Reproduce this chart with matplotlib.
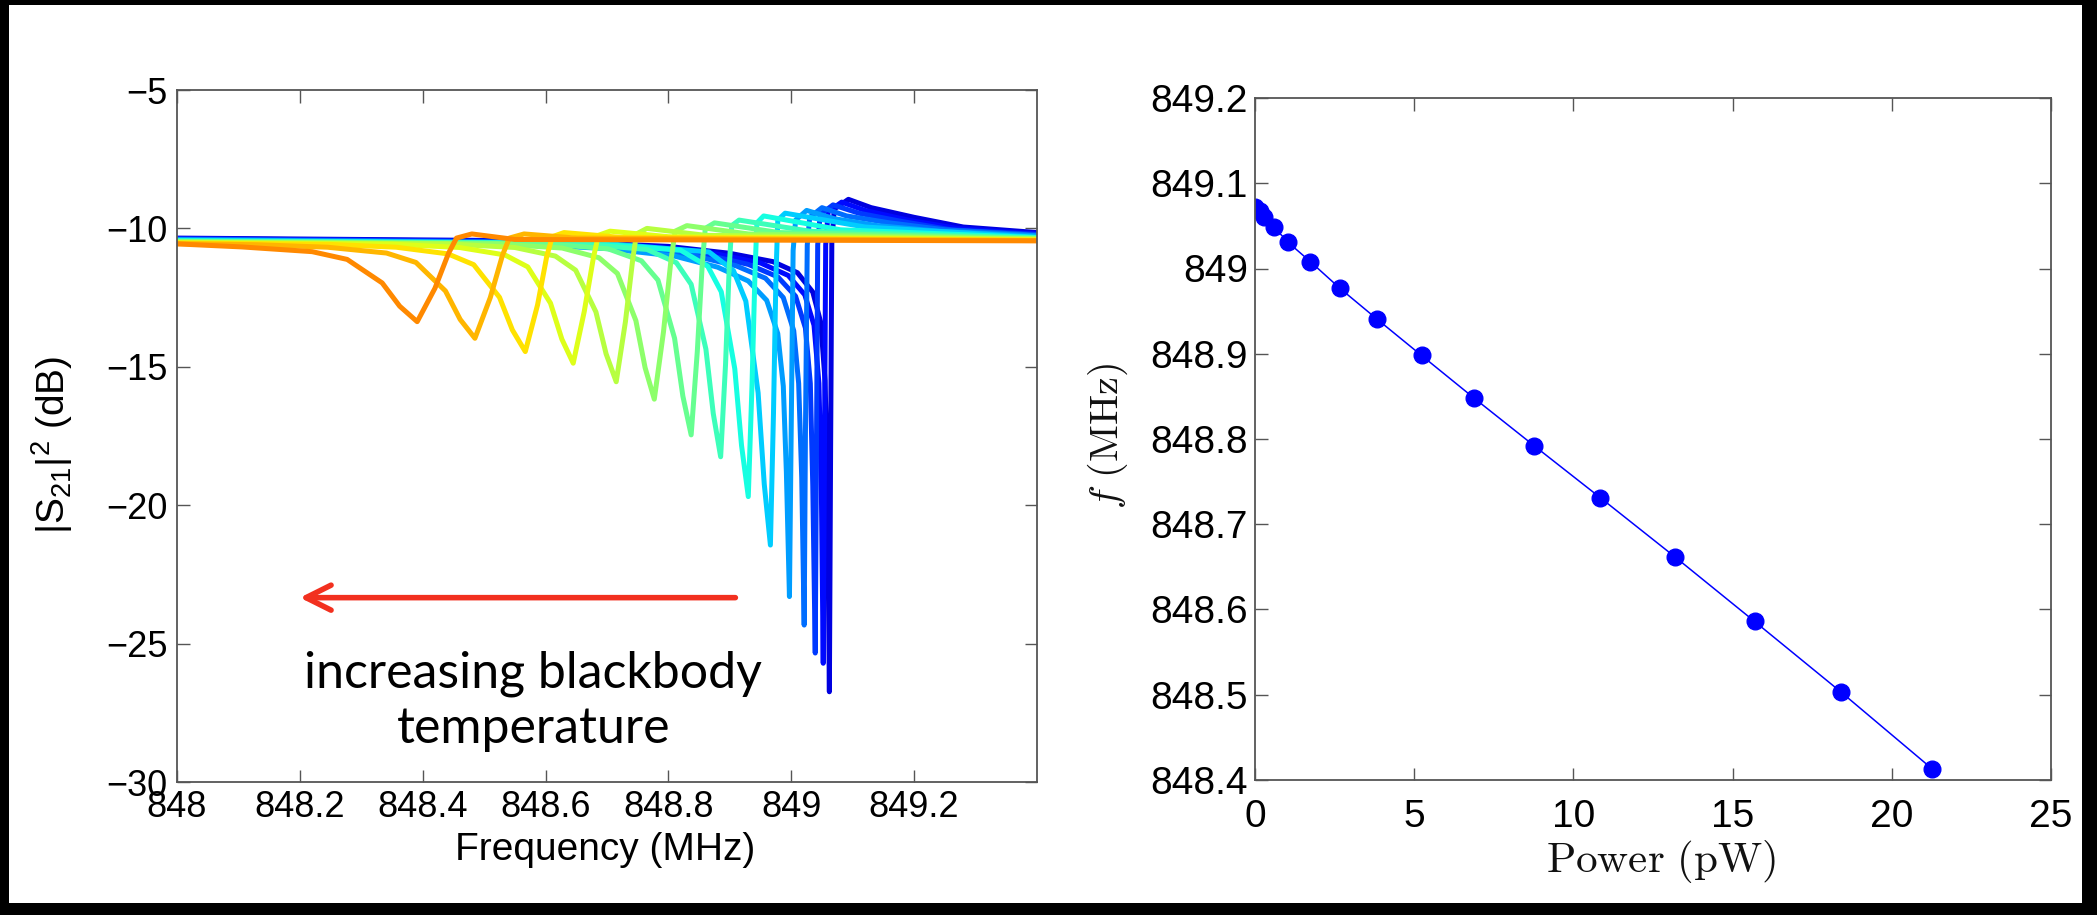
import matplotlib
matplotlib.use("Agg")
import matplotlib.pyplot as plt
from matplotlib.patches import Rectangle

# ---------------- data: left panel (S21 traces, blue = low T -> orange = high T) ----------
t0_f = [848.00, 848.60, 848.80, 848.90, 848.97, 849.01, 849.035, 849.048, 849.055, 849.059, 849.062, 849.064, 849.066, 849.070, 849.093, 849.13, 849.20, 849.28, 849.40]
t0_y = [-10.35, -10.45, -10.65, -10.90, -11.20, -11.60, -12.30, -13.40, -15.50, -19.50, -26.74, -18.00, -10.50, -9.30, -8.95, -9.25, -9.60, -9.95, -10.15]
t1_f = [848.00, 848.58, 848.78, 848.88, 848.95, 848.995, 849.022, 849.037, 849.045, 849.049, 849.052, 849.054, 849.056, 849.060, 849.082, 849.12, 849.19, 849.27, 849.40]
t1_y = [-10.37, -10.47, -10.68, -10.93, -11.25, -11.70, -12.40, -13.50, -15.60, -19.50, -25.71, -18.00, -10.60, -9.40, -9.05, -9.35, -9.70, -10.00, -10.20]
t2_f = [848.00, 848.55, 848.76, 848.86, 848.93, 848.978, 849.007, 849.023, 849.031, 849.035, 849.039, 849.041, 849.043, 849.047, 849.068, 849.11, 849.18, 849.26, 849.40]
t2_y = [-10.38, -10.48, -10.70, -10.95, -11.30, -11.75, -12.45, -13.60, -15.60, -19.30, -25.34, -18.00, -10.60, -9.50, -9.15, -9.45, -9.75, -10.05, -10.22]
t3_f = [848.00, 848.52, 848.73, 848.84, 848.91, 848.958, 848.987, 849.004, 849.012, 849.017, 849.021, 849.023, 849.026, 849.030, 849.050, 849.09, 849.16, 849.25, 849.40]
t3_y = [-10.40, -10.50, -10.72, -10.98, -11.35, -11.80, -12.50, -13.70, -15.60, -19.00, -24.33, -17.50, -10.60, -9.60, -9.25, -9.55, -9.80, -10.05, -10.25]
t4_f = [848.00, 848.50, 848.70, 848.81, 848.88, 848.93, 848.96, 848.978, 848.987, 848.992, 848.997, 849.000, 849.003, 849.007, 849.025, 849.07, 849.14, 849.24, 849.40]
t4_y = [-10.41, -10.50, -10.73, -11.00, -11.40, -11.90, -12.60, -13.80, -15.70, -18.80, -23.30, -17.00, -10.80, -9.70, -9.35, -9.65, -9.90, -10.10, -10.27]
t5_f = [848.00, 848.70, 848.866, 848.906, 848.926, 848.946, 848.956, 848.966, 848.971, 848.975, 848.978, 848.990, 849.12, 849.40]
t5_y = [-10.43, -10.55, -10.85, -11.53, -12.63, -15.94, -19.24, -21.44, -16.70, -11.75, -9.70, -9.45, -9.95, -10.32]
t6_f = [848.00, 848.68, 848.820, 848.864, 848.886, 848.908, 848.919, 848.930, 848.936, 848.941, 848.944, 848.955, 849.08, 849.40]
t6_y = [-10.44, -10.55, -10.79, -11.37, -12.29, -15.07, -17.84, -19.69, -15.71, -11.55, -9.80, -9.55, -10.05, -10.33]
t7_f = [848.00, 848.65, 848.765, 848.813, 848.837, 848.861, 848.873, 848.885, 848.893, 848.899, 848.903, 848.915, 849.03, 849.40]
t7_y = [-10.46, -10.55, -10.76, -11.24, -12.02, -14.36, -16.69, -18.25, -14.90, -11.40, -9.90, -9.70, -10.10, -10.35]
t8_f = [848.00, 848.60, 848.702, 848.756, 848.783, 848.810, 848.8235, 848.837, 848.847, 848.855, 848.860, 848.875, 848.98, 849.40]
t8_y = [-10.47, -10.55, -10.74, -11.17, -11.87, -13.97, -16.06, -17.46, -14.45, -11.31, -10.00, -9.80, -10.15, -10.36]
t9_f = [848.00, 848.52, 848.627, 848.687, 848.717, 848.747, 848.762, 848.777, 848.792, 848.804, 848.811, 848.830, 848.93, 849.40]
t9_y = [-10.49, -10.56, -10.71, -11.06, -11.63, -13.33, -15.03, -16.17, -13.73, -11.17, -10.10, -9.90, -10.20, -10.38]
t10_f = [848.00, 848.44, 848.550, 848.616, 848.649, 848.682, 848.6985, 848.715, 848.730, 848.742, 848.748, 848.765, 848.86, 849.40]
t10_y = [-10.50, -10.56, -10.69, -11.00, -11.51, -13.02, -14.53, -15.54, -13.37, -11.10, -10.20, -10.00, -10.25, -10.39]
t11_f = [848.00, 848.35, 848.460, 848.534, 848.571, 848.608, 848.6265, 848.645, 848.663, 848.678, 848.686, 848.705, 848.80, 849.40]
t11_y = [-10.52, -10.57, -10.69, -10.96, -11.39, -12.70, -14.00, -14.87, -13.00, -11.04, -10.25, -10.10, -10.30, -10.41]
t12_f = [848.00, 848.25, 848.357, 848.441, 848.483, 848.525, 848.546, 848.567, 848.587, 848.602, 848.611, 848.630, 848.72, 849.40]
t12_y = [-10.53, -10.58, -10.68, -10.92, -11.31, -12.49, -13.67, -14.45, -12.76, -11.00, -10.30, -10.15, -10.32, -10.42]
t13_f = [848.00, 848.13, 848.245, 848.341, 848.389, 848.437, 848.461, 848.485, 848.510, 848.530, 848.541, 848.565, 848.65, 849.40]
t13_y = [-10.55, -10.59, -10.68, -10.89, -11.23, -12.26, -13.29, -13.97, -12.50, -10.96, -10.35, -10.20, -10.35, -10.44]
t14_f = [848.00, 848.106, 848.220, 848.277, 848.334, 848.3625, 848.391, 848.420, 848.442, 848.455, 848.480, 848.550, 849.40]
t14_y = [-10.56, -10.67, -10.84, -11.12, -11.97, -12.81, -13.37, -12.16, -10.90, -10.35, -10.20, -10.40, -10.45]

traces_f = [t0_f, t1_f, t2_f, t3_f, t4_f, t5_f, t6_f, t7_f, t8_f, t9_f, t10_f, t11_f, t12_f, t13_f, t14_f]
traces_y = [t0_y, t1_y, t2_y, t3_y, t4_y, t5_y, t6_y, t7_y, t8_y, t9_y, t10_y, t11_y, t12_y, t13_y, t14_y]
trace_cval = [0.085, 0.134, 0.182, 0.231, 0.279, 0.328, 0.377, 0.425, 0.474, 0.522, 0.571, 0.619, 0.668, 0.716, 0.765]

left_xticks = [848, 848.2, 848.4, 848.6, 848.8, 849, 849.2]
left_xticklabels = ["848", "848.2", "848.4", "848.6", "848.8", "849", "849.2"]
left_yticks = [-30, -25, -20, -15, -10, -5]

# ---------------- data: right panel ----------
power_pw = [0, 0.15, 0.29, 0.59, 1.03, 1.74, 2.66, 3.82, 5.23, 6.88, 8.77, 10.85, 13.18, 15.69, 18.41, 21.27]
freq_mhz = [849.072, 849.068, 849.060, 849.049, 849.031, 849.008, 848.977, 848.941, 848.898,
            848.848, 848.792, 848.731, 848.662, 848.586, 848.503, 848.413]
right_xticks = [0, 5, 10, 15, 20, 25]
right_yticks = [848.4, 848.5, 848.6, 848.7, 848.8, 848.9, 849, 849.1, 849.2]
right_yticklabels = ["848.4", "848.5", "848.6", "848.7", "848.8", "848.9", "849", "849.1", "849.2"]

# ---------------- figure ----------
W, H = 2097, 915
fig = plt.figure(figsize=(W / 100, H / 100), dpi=100)
fig.patch.set_facecolor("black")
fig.patches.append(Rectangle((9 / W, 1 - 903 / H), (2082 - 9) / W, (903 - 5) / H,
                             transform=fig.transFigure, facecolor="white", edgecolor="none", zorder=-5))

sans = "Liberation Sans"
spine_col = "#555555"

def style_axes(ax, labsize, xpad, ypad):
    for s in ax.spines.values():
        s.set_color(spine_col)
        s.set_linewidth(1.3)
    ax.tick_params(direction="in", top=True, right=True, length=9, width=1.0, color=spine_col,
                   labelsize=labsize, labelcolor="black")
    ax.tick_params(axis="x", pad=xpad)
    ax.tick_params(axis="y", pad=ypad)
    for lab in ax.get_xticklabels() + ax.get_yticklabels():
        lab.set_fontfamily(sans)

# Left panel
axL = fig.add_axes([177 / W, 1 - 782 / H, 860 / W, 692 / H])
jet = plt.get_cmap("jet")
for fx, fy, cv in zip(traces_f, traces_y, trace_cval):
    axL.plot(fx, fy, color=jet(cv), lw=3.6, solid_joinstyle="round")
axL.set_xlim(848, 849.4)
axL.set_ylim(-30, -5)
axL.set_xticks(left_xticks)
axL.set_xticklabels(left_xticklabels)
axL.set_yticks(left_yticks)
style_axes(axL, 26, 6, 7)
axL.set_xlabel("Frequency (MHz)", fontsize=28, family=sans)
axL.xaxis.set_label_coords(0.498, -0.072)
axL.set_ylabel(r"$\mathregular{|S_{21}|^{2}}$ (dB)", fontsize=28, family=sans)
axL.yaxis.set_label_coords(-0.119, 0.487)

axL.annotate("", xy=(848.20, -23.34), xytext=(848.909, -23.34),
             arrowprops=dict(arrowstyle="->,head_length=0.9,head_width=0.45", mutation_scale=20,
                             color="#F2301F", lw=4.0, shrinkA=0, shrinkB=0))
axL.text(848.58, -26.57, "increasing blackbody", ha="center", va="baseline",
         fontsize=36, family="Lato", color="black")
axL.text(848.58, -28.59, "temperature", ha="center", va="baseline",
         fontsize=36, family="Lato", color="black")

# Right panel
axR = fig.add_axes([1255 / W, 1 - 780 / H, 796 / W, 682 / H])
axR.plot(power_pw, freq_mhz, "-o", color="blue", lw=1.1, markersize=12, markeredgecolor="blue")
axR.set_xlim(0, 25)
axR.set_ylim(848.4, 849.2)
axR.set_xticks(right_xticks)
axR.set_yticks(right_yticks)
axR.set_yticklabels(right_yticklabels)
style_axes(axR, 28, 14, 5)
axR.set_xlabel(r"$\mathrm{Power\ (pW)}$", fontsize=31, math_fontfamily="cm", color="#111111")
axR.xaxis.set_label_coords(0.51, -0.085)
axR.set_ylabel(r"$f\ \mathrm{(MHz)}$", fontsize=29, math_fontfamily="cm", color="#111111")
axR.yaxis.set_label_coords(-0.157, 0.505)

fig.savefig("out.png", dpi=100, facecolor=fig.get_facecolor())
